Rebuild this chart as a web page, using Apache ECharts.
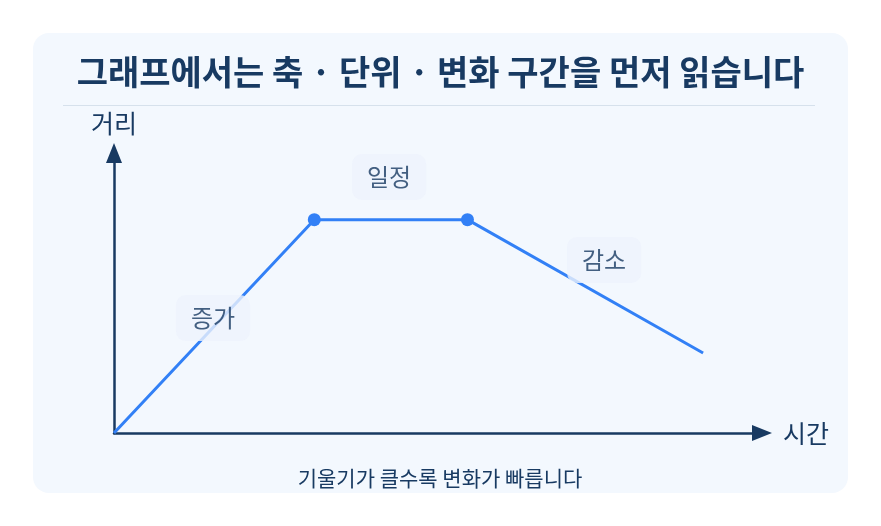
<!DOCTYPE html>
<html>
<head>
<meta charset="utf-8">
<script src="https://cdn.jsdelivr.net/npm/echarts@6/dist/echarts.min.js"></script>
<style>
html,body{margin:0;padding:0;background:#ffffff;}
#chart{width:881px;height:526px;}
</style>
</head>
<body>
<div id="chart"></div>
<script>
const titleText = '그래프에서는 축 · 단위 · 변화 구간을 먼저 읽습니다';
const noteText = '기울기가 클수록 변화가 빠릅니다';
const xAxisName = '시간';
const yAxisName = '거리';
const timeValues = [0, 3.4, 6, 10];
const distanceValues = [0, 8, 8, 3];
const segmentLabels = ['증가', '일정', '감소'];
const segmentLabelTime = [1.68, 4.67, 8.32];
const segmentLabelDistance = [4.31, 9.6, 6.49];

const FONT = '"Noto Sans CJK KR", "Noto Sans", sans-serif';
const NAVY = '#183a62';
const BLUE = '#3280f6';

const chart = echarts.init(document.getElementById('chart'), null, {renderer: 'canvas'});

const lineData = timeValues.map((t, i) => ({
  value: [t, distanceValues[i]],
  symbol: (i === 1 || i === 2) ? 'circle' : 'none'
}));
const labelData = segmentLabels.map((s, i) => ({
  value: [segmentLabelTime[i], segmentLabelDistance[i]],
  name: s
}));

chart.setOption({
  animation: false,
  backgroundColor: '#ffffff',
  title: {
    text: titleText,
    left: 'center',
    top: 50,
    textStyle: {fontFamily: FONT, fontSize: 34, fontWeight: 'bold', color: NAVY}
  },
  graphic: [
    {type: 'rect', z: -10, shape: {x: 33, y: 33, width: 815, height: 460, r: 16}, style: {fill: '#f3f8fe'}},
    {type: 'line', z: -9, shape: {x1: 63, y1: 105.5, x2: 815, y2: 105.5}, style: {stroke: '#d6e1ec', lineWidth: 1}},
    {type: 'text', x: 440, y: 478, style: {text: noteText, align: 'center', verticalAlign: 'middle', fontFamily: FONT, fontSize: 21, fill: NAVY}}
  ],
  grid: {left: 114, top: 153, right: 881 - 762, bottom: 93, containLabel: false},
  xAxis: {
    type: 'value', min: 0, max: 11,
    name: xAxisName, nameLocation: 'end', nameGap: 21,
    nameTextStyle: {fontFamily: FONT, fontSize: 25, color: NAVY},
    axisLine: {show: true, symbol: ['none', 'triangle'], symbolSize: [16, 20], lineStyle: {color: NAVY, width: 2.5}},
    axisTick: {show: false}, axisLabel: {show: false}, splitLine: {show: false}
  },
  yAxis: {
    type: 'value', min: 0, max: 10.5,
    name: yAxisName, nameLocation: 'end', nameGap: 17,
    nameTextStyle: {fontFamily: FONT, fontSize: 25, color: NAVY},
    axisLine: {show: true, symbol: ['none', 'triangle'], symbolSize: [16, 20], lineStyle: {color: NAVY, width: 2.5}},
    axisTick: {show: false}, axisLabel: {show: false}, splitLine: {show: false}
  },
  series: [
    {
      type: 'line', z: 3,
      data: lineData,
      symbolSize: 13,
      lineStyle: {color: BLUE, width: 3},
      itemStyle: {color: BLUE},
      emphasis: {disabled: true}
    },
    {
      type: 'scatter', z: 6,
      data: labelData,
      symbolSize: 0,
      label: {
        show: true, position: 'inside', formatter: '{b}',
        fontFamily: FONT, fontSize: 24, color: NAVY,
        backgroundColor: '#eef3fc', borderRadius: 10, padding: [11, 15]
      },
      emphasis: {disabled: true}
    }
  ]
});
</script>
</body>
</html>
